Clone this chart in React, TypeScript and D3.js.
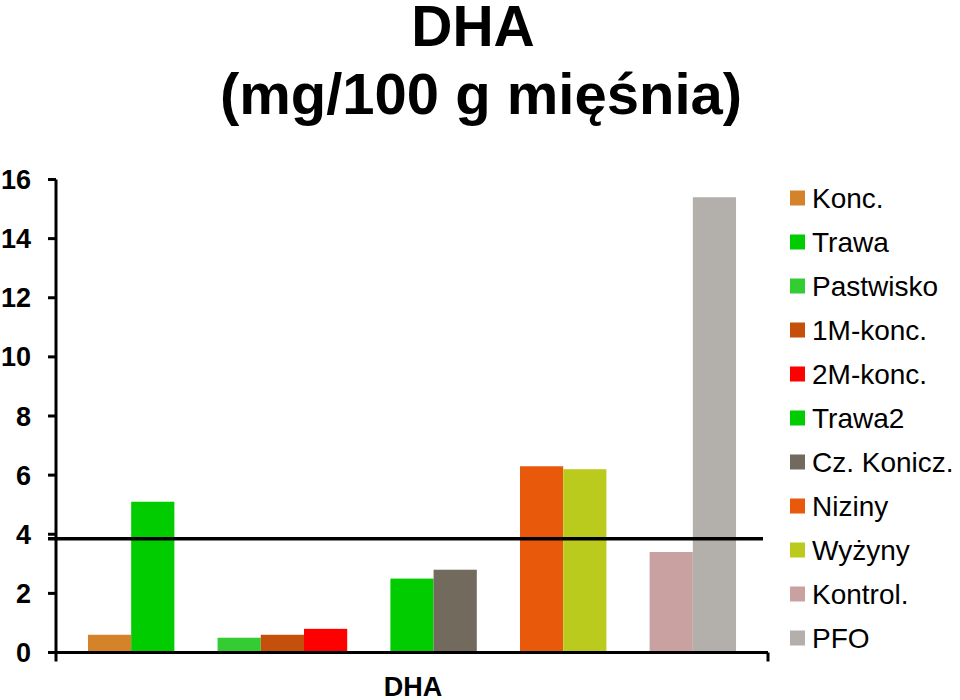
import React from "react";
import * as d3 from "d3";

const seriesNames = ["Konc.", "Trawa", "Pastwisko", "1M-konc.", "2M-konc.", "Trawa2", "Cz. Konicz.", "Niziny", "Wyżyny", "Kontrol.", "PFO"];
const seriesValues = [0.6, 5.1, 0.5, 0.6, 0.8, 2.5, 2.8, 6.3, 6.2, 3.4, 15.4];
const seriesColors = ["#D4832A", "#00CC00", "#33CC33", "#C4500C", "#FF0000", "#00CC00", "#736A5E", "#E8590C", "#BBCB1E", "#C9A1A1", "#B3B0AB"];
const groupSizes = [2, 3, 2, 2, 2];
const yTicks = [0, 2, 4, 6, 8, 10, 12, 14, 16];
const refLineValue = 3.85;
const categoryLabel = "DHA";
const titleLines = ["DHA", "(mg/100 g mięśnia)"];

const FONT = "'Liberation Sans', Arial, sans-serif";

export default function App() {
  const W = 960, H = 700;
  const x0 = 56, x1 = 768, yTop = 179.5, yBot = 652.5;

  // slot index for each series: one empty slot between groups
  const slots: number[] = [];
  let s = 0;
  groupSizes.forEach((g, gi) => {
    for (let i = 0; i < g; i++) slots.push(s++);
    if (gi < groupSizes.length - 1) s++;
  });
  const nSlots = s;

  const y = d3.scaleLinear().domain([0, 16]).range([yBot, yTop]);
  const x = d3.scaleBand<number>().domain(d3.range(nSlots)).range([x0, x1]).paddingInner(0).paddingOuter(0.74);

  return (
    <svg width={W} height={H} style={{ position: "absolute", left: 0, top: 0, background: "#fff" }} fontFamily={FONT}>
      <rect width={W} height={H} fill="#fff" />
      <text x={473} y={46} textAnchor="middle" fontSize={57} fontWeight="bold">{titleLines[0]}</text>
      <text x={481} y={114} textAnchor="middle" fontSize={58} fontWeight="bold">{titleLines[1]}</text>

      {seriesValues.map((v, i) => (
        <rect key={i} x={x(slots[i])!} y={y(v)} width={x.bandwidth()} height={y(0) - y(v)} fill={seriesColors[i]} />
      ))}

      {/* y axis */}
      <line x1={x0} x2={x0} y1={yTop} y2={yBot + 9} stroke="#000" strokeWidth={3} />
      {yTicks.map((t) => (
        <g key={t}>
          <line x1={x0 - 8} x2={x0} y1={y(t)} y2={y(t)} stroke="#000" strokeWidth={3} />
          <text x={31} y={y(t) + 9.5} textAnchor="end" fontSize={27} fontWeight="bold">{t}</text>
        </g>
      ))}
      {/* x axis */}
      <line x1={x0 - 8} x2={x1} y1={yBot} y2={yBot} stroke="#000" strokeWidth={3} />
      <line x1={x1} x2={x1} y1={yBot} y2={yBot + 9} stroke="#000" strokeWidth={3} />
      <text x={(x0 + x1) / 2 + 1} y={696} textAnchor="middle" fontSize={27} fontWeight="bold">{categoryLabel}</text>

      {/* reference line */}
      <line x1={x0 - 8} x2={763} y1={y(refLineValue)} y2={y(refLineValue)} stroke="#000" strokeWidth={3.5} />

      {/* legend */}
      {seriesNames.map((n, i) => {
        const cy = 198 + i * 44;
        return (
          <g key={n}>
            <rect x={790} y={cy - 7.5} width={15} height={15} fill={seriesColors[i]} />
            <text x={812} y={cy + 10} fontSize={28}>{n}</text>
          </g>
        );
      })}
    </svg>
  );
}
